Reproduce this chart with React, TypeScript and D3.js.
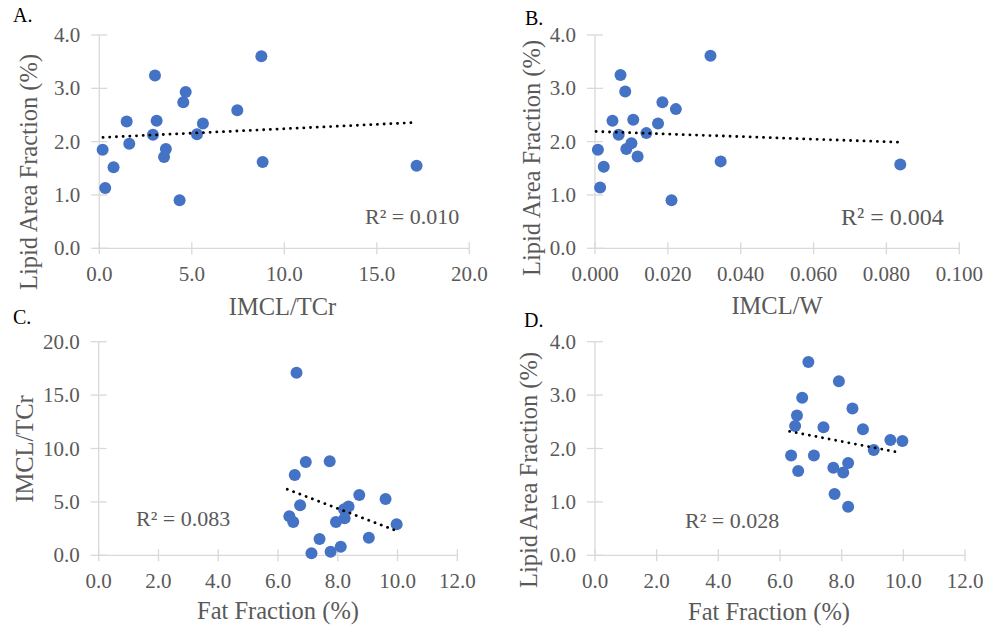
import React from "react";
import * as d3 from "d3";

// ---------- Data ----------
// Panel A: IMCL/TCr vs Lipid Area Fraction
const aX = [0.18, 0.32, 0.77, 1.48, 1.62, 3.01, 2.9, 3.1, 3.5, 3.6, 4.34, 4.54, 4.67, 5.28, 5.6, 7.46, 8.76, 8.83, 17.15];
const aY = [1.85, 1.13, 1.52, 2.38, 1.96, 3.24, 2.13, 2.39, 1.71, 1.86, 0.9, 2.74, 2.93, 2.14, 2.34, 2.59, 3.6, 1.62, 1.55];
const aTrendX = [0.2, 17.15];
const aTrendY = [2.08, 2.36];

// Panel B: IMCL/W vs Lipid Area Fraction
const bX = [0.0008, 0.0014, 0.0024, 0.0048, 0.0065, 0.007, 0.0083, 0.0086, 0.01, 0.0105, 0.0117, 0.0141, 0.0173, 0.0185, 0.021, 0.0222, 0.0317, 0.0345, 0.0838];
const bY = [1.85, 1.14, 1.53, 2.39, 2.13, 3.25, 2.94, 1.86, 1.97, 2.41, 1.72, 2.16, 2.34, 2.74, 0.9, 2.61, 3.61, 1.63, 1.57];
const bTrendX = [0.0003, 0.0833];
const bTrendY = [2.19, 1.99];

// Panel C: Fat Fraction vs IMCL/TCr
const cX = [6.62, 6.93, 7.73, 6.56, 6.74, 6.38, 6.51, 8.72, 9.6, 8.36, 8.21, 8.23, 7.94, 9.97, 7.39, 9.04, 7.12, 7.76, 8.1];
const cY = [17.1, 8.74, 8.8, 7.52, 4.68, 3.65, 3.12, 5.65, 5.27, 4.56, 4.31, 3.46, 3.12, 2.9, 1.53, 1.65, 0.19, 0.34, 0.81];
const cTrendX = [6.31, 9.95];
const cTrendY = [6.18, 2.31];

// Panel D: Fat Fraction vs Lipid Area Fraction
const dX = [6.92, 7.91, 6.72, 8.35, 6.55, 6.49, 7.41, 8.69, 9.58, 9.97, 9.04, 6.36, 7.1, 8.21, 7.73, 8.05, 6.59, 7.77, 8.21];
const dY = [3.62, 3.26, 2.95, 2.75, 2.62, 2.42, 2.4, 2.36, 2.16, 2.14, 1.97, 1.87, 1.87, 1.73, 1.64, 1.55, 1.58, 1.15, 0.91];
const dTrendX = [6.31, 9.82];
const dTrendY = [2.32, 1.93];

const ticksA_X = [0, 5, 10, 15, 20];
const ticksB_X = [0, 0.02, 0.04, 0.06, 0.08, 0.1];
const ticksFF_X = [0, 2, 4, 6, 8, 10, 12];
const ticksLipid_Y = [0, 1, 2, 3, 4];
const ticksIMCL_Y = [0, 5, 10, 15, 20];

const r2Labels = ["R² = 0.010", "R² = 0.004", "R² = 0.083", "R² = 0.028"];
const panelLetters = ["A.", "B.", "C.", "D."];

// ---------- Styles ----------
const FONT = "Liberation Serif, DejaVu Serif, serif";
const DOT = "#4472C4";
const AXIS = "#d9d9d9";
const TEXT = "#595959";

type PanelProps = {
  xs: number[];
  ys: number[];
  trendX: number[];
  trendY: number[];
  x0: number; x1: number; y0: number; y1: number;
  xDomain: [number, number];
  yDomain: [number, number];
  xTicks: number[];
  yTicks: number[];
  xFmt: string;
  letter: string;
  letterPos: [number, number];
  xTitle: string;
  xTitlePos: [number, number];
  yTitle: string;
  yTitlePos: [number, number];
  r2: string;
  r2Pos: [number, number];
  r2Size: number;
};

const txt = (size: number, fill: string) => ({ fontFamily: FONT, fontSize: size + "px", fill });

function Panel(p: PanelProps) {
  const x = d3.scaleLinear().domain(p.xDomain).range([p.x0, p.x1]);
  const y = d3.scaleLinear().domain(p.yDomain).range([p.y1, p.y0]);
  const fx = d3.format(p.xFmt);
  const fy = d3.format(".1f");
  const line = d3.line<number>()
    .x((_, i) => x(p.trendX[i]))
    .y((_, i) => y(p.trendY[i]));
  return (
    <g>
      {/* axes */}
      <line x1={p.x0} x2={p.x1} y1={p.y1} y2={p.y1} stroke={AXIS} strokeWidth={1.3} />
      <line x1={p.x0} x2={p.x0} y1={p.y0} y2={p.y1} stroke={AXIS} strokeWidth={1.3} />
      {p.xTicks.map((t) => (
        <g key={"xt" + t}>
          <line x1={x(t)} x2={x(t)} y1={p.y1 - 6} y2={p.y1 + 6} stroke={AXIS} strokeWidth={1.3} />
          <text x={x(t)} y={p.y1 + 32.5} textAnchor="middle" style={txt(21, TEXT)}>
            {fx(t)}
          </text>
        </g>
      ))}
      {p.yTicks.map((t) => (
        <g key={"yt" + t}>
          <line x1={p.x0 - 8} x2={p.x0 + 8} y1={y(t)} y2={y(t)} stroke={AXIS} strokeWidth={1.3} />
          <text x={p.x0 - 19} y={y(t) + 7} textAnchor="end" style={txt(21, TEXT)}>
            {fy(t)}
          </text>
        </g>
      ))}
      {/* points */}
      {p.xs.map((v, i) => (
        <circle key={i} cx={x(v)} cy={y(p.ys[i])} r={6} fill={DOT} />
      ))}
      {/* trendline */}
      <path
        d={line(p.trendX) || ""}
        fill="none"
        stroke="#000"
        strokeWidth={2.8}
        strokeLinecap="round"
        strokeDasharray="0.1 6.6"
      />
      {/* labels */}
      <text x={p.letterPos[0]} y={p.letterPos[1]} style={txt(20, "#000")}>
        {p.letter}
      </text>
      <text x={p.xTitlePos[0]} y={p.xTitlePos[1]} textAnchor="middle" style={txt(24.5, TEXT)}>
        {p.xTitle}
      </text>
      <text
        transform={`translate(${p.yTitlePos[0]},${p.yTitlePos[1]}) rotate(-90)`}
        textAnchor="middle"
        style={txt(24.5, TEXT)}
      >
        {p.yTitle}
      </text>
      <text x={p.r2Pos[0]} y={p.r2Pos[1]} style={txt(p.r2Size, TEXT)}>
        {p.r2}
      </text>
    </g>
  );
}

export default function App() {
  return (
    <svg
      width={993}
      height={631}
      style={{ position: "absolute", left: 0, top: 0, background: "#fff" }}
    >
      <rect width={993} height={631} fill="#fff" />
      <Panel
        xs={aX} ys={aY} trendX={aTrendX} trendY={aTrendY}
        x0={99.3} x1={469.3} y0={35} y1={248.3}
        xDomain={[0, 20]} yDomain={[0, 4]}
        xTicks={ticksA_X} yTicks={ticksLipid_Y} xFmt=".1f"
        letter={panelLetters[0]} letterPos={[13, 22]}
        xTitle="IMCL/TCr" xTitlePos={[282.5, 315]}
        yTitle="Lipid Area Fraction (%)" yTitlePos={[37, 172]}
        r2={r2Labels[0]} r2Pos={[365, 224]} r2Size={22}
      />
      <Panel
        xs={bX} ys={bY} trendX={bTrendX} trendY={bTrendY}
        x0={595} x1={959.3} y0={35} y1={248.3}
        xDomain={[0, 0.1]} yDomain={[0, 4]}
        xTicks={ticksB_X} yTicks={ticksLipid_Y} xFmt=".3f"
        letter={panelLetters[1]} letterPos={[525, 25]}
        xTitle="IMCL/W" xTitlePos={[777, 314]}
        yTitle="Lipid Area Fraction (%)" yTitlePos={[540, 158]}
        r2={r2Labels[1]} r2Pos={[841, 225]} r2Size={24}
      />
      <Panel
        xs={cX} ys={cY} trendX={cTrendX} trendY={cTrendY}
        x0={98.7} x1={457.3} y0={341.7} y1={555.3}
        xDomain={[0, 12]} yDomain={[0, 20]}
        xTicks={ticksFF_X} yTicks={ticksIMCL_Y} xFmt=".1f"
        letter={panelLetters[2]} letterPos={[13, 324]}
        xTitle="Fat Fraction (%)" xTitlePos={[278, 619]}
        yTitle="IMCL/TCr" yTitlePos={[33, 449]}
        r2={r2Labels[2]} r2Pos={[136, 526]} r2Size={22}
      />
      <Panel
        xs={dX} ys={dY} trendX={dTrendX} trendY={dTrendY}
        x0={595} x1={965} y0={341.7} y1={555.3}
        xDomain={[0, 12]} yDomain={[0, 4]}
        xTicks={ticksFF_X} yTicks={ticksLipid_Y} xFmt=".1f"
        letter={panelLetters[3]} letterPos={[524, 327]}
        xTitle="Fat Fraction (%)" xTitlePos={[769, 620]}
        yTitle="Lipid Area Fraction (%)" yTitlePos={[537, 470]}
        r2={r2Labels[3]} r2Pos={[685, 528]} r2Size={22}
      />
    </svg>
  );
}
